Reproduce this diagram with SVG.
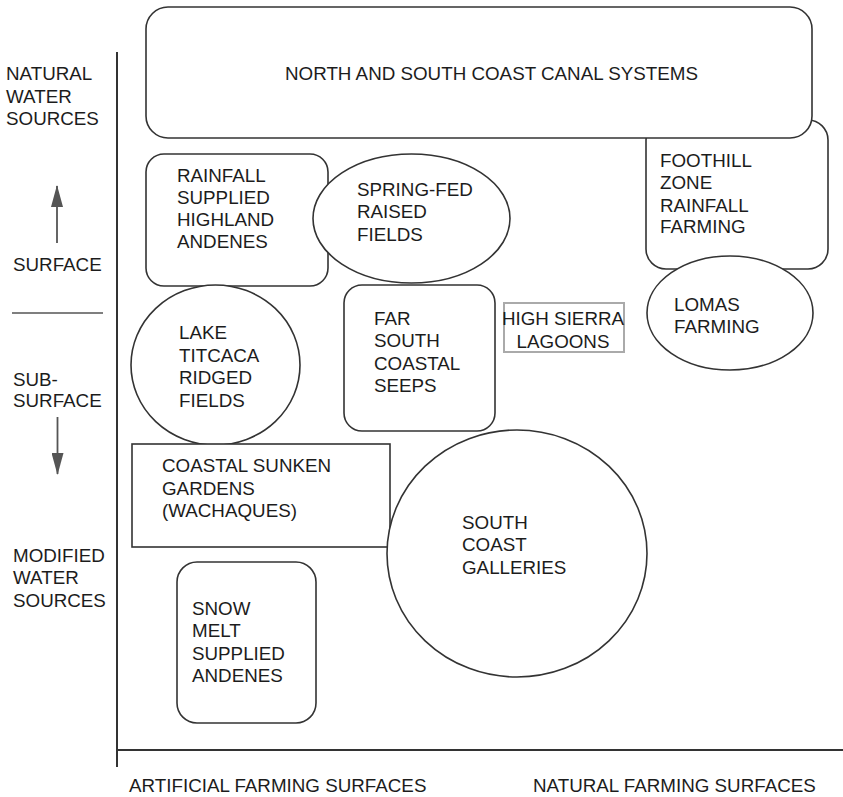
<svg xmlns="http://www.w3.org/2000/svg" width="843" height="797" viewBox="0 0 843 797">
  <style>
    text { font-family: "Liberation Sans", Arial, sans-serif; font-size: 18.8px; fill: #1c1c1c; }
    .shape { fill: #ffffff; stroke: #333333; stroke-width: 1.6; }
    .light { fill: #ffffff; stroke: #aaaaaa; stroke-width: 2; }
    .axis { stroke: #333333; stroke-width: 2; fill: none; }
    .mid { text-anchor: middle; }
  </style>
  <defs>
    <marker id="head" viewBox="0 0 22 12" refX="21" refY="6" markerWidth="22" markerHeight="12" markerUnits="userSpaceOnUse" orient="auto">
      <path d="M0,0 L22,6 L0,12 Z" fill="#555555"/>
    </marker>
  </defs>
  <rect width="843" height="797" fill="#ffffff"/>

  <!-- axes and side labels -->
  <g id="axes">
    <line class="axis" x1="117" y1="52" x2="117" y2="767"/>
    <line class="axis" x1="117" y1="750" x2="843" y2="750"/>
    <line x1="12" y1="313" x2="103" y2="313" stroke="#555555" stroke-width="1.6"/>
  </g>
  <g id="connectors">
    <line x1="57" y1="243" x2="57" y2="186" stroke="#555555" stroke-width="1.8" marker-end="url(#head)"/>
    <line x1="57.5" y1="417" x2="57.5" y2="474" stroke="#555555" stroke-width="1.8" marker-end="url(#head)"/>
  </g>
  <g id="labels">
    <text x="6" y="80">NATURAL</text>
    <text x="6" y="103">WATER</text>
    <text x="6" y="125">SOURCES</text>
    <text x="13" y="271">SURFACE</text>
    <text x="13" y="386">SUB-</text>
    <text x="13" y="407">SURFACE</text>
    <text x="13" y="562">MODIFIED</text>
    <text x="13" y="584">WATER</text>
    <text x="13" y="607">SOURCES</text>
    <text x="129" y="792">ARTIFICIAL FARMING SURFACES</text>
    <text x="533" y="792">NATURAL FARMING SURFACES</text>
  </g>

  <!-- farming systems -->
  <g id="foothill">
    <rect class="shape" x="646" y="120" width="182" height="149" rx="20"/>
    <text x="660" y="167">FOOTHILL</text>
    <text x="660" y="189">ZONE</text>
    <text x="660" y="212">RAINFALL</text>
    <text x="660" y="233">FARMING</text>
  </g>
  <g id="canals">
    <rect class="shape" x="146" y="7" width="666" height="131" rx="22"/>
    <text x="285" y="80">NORTH AND SOUTH COAST CANAL SYSTEMS</text>
  </g>
  <g id="lomas">
    <ellipse class="shape" cx="730" cy="313" rx="83" ry="57"/>
    <text x="674" y="311">LOMAS</text>
    <text x="674" y="333">FARMING</text>
  </g>
  <g id="rainfall-andenes">
    <rect class="shape" x="146" y="154" width="182" height="132" rx="18"/>
    <text x="177" y="182">RAINFALL</text>
    <text x="177" y="204">SUPPLIED</text>
    <text x="177" y="226">HIGHLAND</text>
    <text x="177" y="248">ANDENES</text>
  </g>
  <g id="spring-fed">
    <ellipse class="shape" cx="411.5" cy="218.5" rx="98.5" ry="64.5"/>
    <text x="357" y="196">SPRING-FED</text>
    <text x="357" y="218">RAISED</text>
    <text x="357" y="241">FIELDS</text>
  </g>
  <g id="far-south">
    <rect class="shape" x="344" y="285" width="151" height="146" rx="18"/>
    <text x="374" y="325">FAR</text>
    <text x="374" y="347">SOUTH</text>
    <text x="374" y="370">COASTAL</text>
    <text x="374" y="392">SEEPS</text>
  </g>
  <g id="high-sierra">
    <rect class="light" x="504" y="303" width="120" height="49"/>
    <text class="mid" x="563" y="325">HIGH SIERRA</text>
    <text class="mid" x="563" y="348">LAGOONS</text>
  </g>
  <g id="titicaca">
    <ellipse class="shape" cx="215.5" cy="365" rx="84.5" ry="80"/>
    <text x="179" y="339">LAKE</text>
    <text x="179" y="362">TITCACA</text>
    <text x="179" y="384">RIDGED</text>
    <text x="179" y="407">FIELDS</text>
  </g>
  <g id="sunken-gardens">
    <rect class="shape" x="132" y="444" width="258" height="103"/>
    <text x="162" y="472">COASTAL SUNKEN</text>
    <text x="162" y="495">GARDENS</text>
    <text x="162" y="517">(WACHAQUES)</text>
  </g>
  <g id="galleries">
    <ellipse class="shape" cx="517" cy="553.5" rx="130" ry="123.5"/>
    <text x="462" y="529">SOUTH</text>
    <text x="462" y="551">COAST</text>
    <text x="462" y="574">GALLERIES</text>
  </g>
  <g id="snow-melt">
    <rect class="shape" x="177" y="562" width="139" height="161" rx="20"/>
    <text x="192" y="615">SNOW</text>
    <text x="192" y="637">MELT</text>
    <text x="192" y="660">SUPPLIED</text>
    <text x="192" y="682">ANDENES</text>
  </g>
</svg>
